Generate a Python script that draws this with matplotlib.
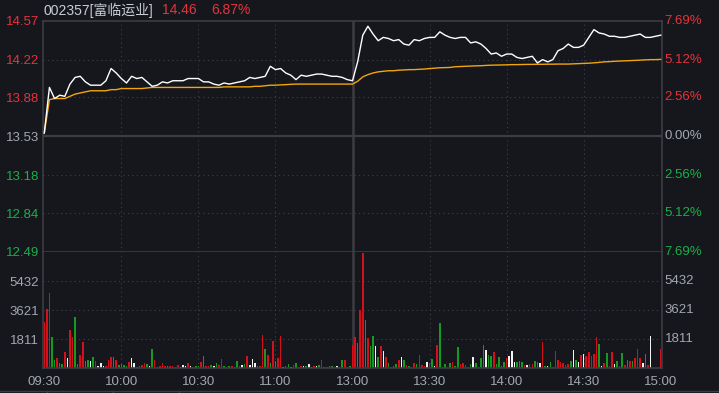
import numpy as np
import matplotlib

matplotlib.use("Agg")
import matplotlib.pyplot as plt
from matplotlib.lines import Line2D
from matplotlib.transforms import blended_transform_factory

plt.rcParams["font.family"] = ["Liberation Sans", "Noto Sans CJK SC", "DejaVu Sans"]

# ---- data ----
code_name = "002357[富临运业]"
last_price = "14.46"
last_pct = "6.87%"
pre_close = 13.53

# price / average price sampled every 2 minutes (0 = 09:30, 120 = 13:00, 240 = 15:00)
price_minutes = np.arange(0, 241, 2)
price = [
    13.56, 13.97, 13.87, 13.90, 13.89, 14.00, 14.06, 14.07, 14.02, 13.99,
    13.99, 13.99, 14.03, 14.14, 14.10, 14.05, 14.01, 14.07, 14.05, 14.06,
    14.02, 13.98, 13.99, 14.02, 14.01, 14.03, 14.03, 14.03, 14.05, 14.05,
    14.05, 14.02, 14.02, 14.00, 13.99, 14.01, 14.00, 14.01, 14.02, 14.03,
    14.06, 14.05, 14.06, 14.07, 14.16, 14.13, 14.14, 14.10, 14.08, 14.04,
    14.08, 14.07, 14.08, 14.09, 14.09, 14.08, 14.07, 14.07, 14.06, 14.04,
    14.03, 14.20, 14.44, 14.52, 14.45, 14.39, 14.42, 14.41, 14.39, 14.40,
    14.36, 14.35, 14.40, 14.39, 14.41, 14.42, 14.42, 14.47, 14.44, 14.42,
    14.41, 14.42, 14.42, 14.37, 14.38, 14.36, 14.32, 14.27, 14.28, 14.25,
    14.27, 14.27, 14.24, 14.23, 14.24, 14.25, 14.19, 14.22, 14.20, 14.22,
    14.30, 14.32, 14.36, 14.33, 14.33, 14.35, 14.42, 14.49, 14.46, 14.45,
    14.43, 14.43, 14.42, 14.42, 14.43, 14.44, 14.45, 14.42, 14.42, 14.43,
    14.44,
]
avg_price = [
    13.56, 13.86, 13.87, 13.87, 13.87, 13.89, 13.91, 13.92, 13.93, 13.94,
    13.94, 13.94, 13.94, 13.95, 13.95, 13.96, 13.96, 13.96, 13.96, 13.96,
    13.965, 13.97, 13.97, 13.97, 13.97, 13.97, 13.97, 13.97, 13.97, 13.97,
    13.97, 13.97, 13.97, 13.97, 13.97, 13.975, 13.975, 13.975, 13.975, 13.975,
    13.975, 13.98, 13.98, 13.985, 13.99, 13.99, 13.993, 13.995, 13.998, 14.0,
    14.0, 14.0, 14.0, 14.0, 14.0, 14.0, 14.0, 14.0, 14.0, 14.0,
    14.0, 14.025, 14.065, 14.085, 14.10, 14.11, 14.115, 14.12, 14.12, 14.125,
    14.127, 14.13, 14.13, 14.133, 14.135, 14.14, 14.143, 14.147, 14.148, 14.15,
    14.156, 14.158, 14.16, 14.162, 14.164, 14.165, 14.168, 14.17, 14.171, 14.172,
    14.173, 14.175, 14.175, 14.176, 14.177, 14.177, 14.178, 14.178, 14.179, 14.179,
    14.18, 14.18, 14.18, 14.182, 14.184, 14.186, 14.188, 14.191, 14.195, 14.20,
    14.202, 14.205, 14.207, 14.209, 14.211, 14.213, 14.215, 14.218, 14.22, 14.22,
    14.222,
]

# per-minute volume and direction (1 up / red, -1 down / green, 0 flat / white)
volume = [
    2890, 3680, 4660, 1955, 500, 600, 330, 250, 1020, 645, 2370, 1955, 3200, 250, 810, 1640, 440, 500, 440, 700,
    440, 125, 290, 125, 125, 500, 700, 700, 500, 190, 250, 190, 125, 350, 645, 290, 80, 125, 190, 290,
    250, 125, 1190, 500, 80, 125, 290, 125, 125, 125, 125, 80, 190, 80, 190, 145, 290, 125, 80, 125,
    125, 350, 770, 125, 125, 190, 125, 290, 190, 560, 125, 80, 125, 125, 80, 440, 125, 190, 250, 750,
    190, 560, 290, 125, 125, 2060, 1185, 810, 290, 1685, 440, 600, 2000, 60, 125, 250, 80, 190, 310, 80,
    125, 125, 125, 250, 80, 125, 125, 190, 500, 80, 80, 125, 125, 80, 125, 80, 500, 500, 80, 125,
    1435, 1910, 1580, 3620, 7200, 3000, 1890, 1370, 2000, 1370, 710, 1370, 1060, 690, 290, 80, 145, 250, 500, 690,
    500, 190, 125, 80, 290, 250, 810, 190, 125, 375, 310, 560, 125, 1435, 2810, 80, 250, 80, 330, 400,
    125, 1310, 250, 310, 190, 80, 230, 690, 310, 80, 625, 1435, 1120, 810, 750, 980, 250, 690, 125, 375,
    600, 750, 1060, 375, 375, 440, 375, 190, 190, 250, 250, 440, 375, 310, 1620, 125, 125, 375, 60, 1060,
    500, 375, 310, 190, 250, 440, 1120, 500, 375, 810, 875, 750, 1000, 750, 875, 1935, 1500, 125, 310, 935,
    125, 1000, 250, 440, 125, 935, 190, 500, 440, 440, 625, 1185, 625, 310, 875, 190, 2000, 0, 0, 0, 1190,
]
direction = [
    1, 1, 1, -1, -1, 1, -1, -1, 1, 0, 1, 1, -1, -1, 1, 1, -1, -1, 0, -1,
    1, 0, 0, 0, 1, 1, 1, -1, 1, -1, -1, -1, -1, 1, 0, 0, -1, -1, 1, 1,
    -1, 0, -1, 1, 1, 1, 1, 1, -1, 1, 1, 1, 1, 0, 0, 0, 1, 0, 1, -1,
    -1, 1, -1, 1, 1, -1, 0, -1, 1, 1, -1, -1, -1, 1, 1, -1, 1, 0, -1, 1,
    0, 0, 0, -1, 1, 1, -1, 1, -1, 1, -1, 1, 1, 0, -1, -1, 0, 1, -1, -1,
    1, 0, -1, 0, 0, 1, 0, -1, 1, -1, 1, -1, -1, 1, 0, -1, -1, 1, 1, -1,
    1, 1, -1, 1, 1, -1, 1, -1, -1, 0, -1, 1, 0, 1, -1, 1, -1, -1, 1, 0,
    -1, 1, -1, -1, 1, -1, 1, 1, 1, 0, 1, -1, 0, 1, -1, -1, -1, 1, -1, 1,
    -1, -1, 1, 1, 1, 1, -1, 0, -1, 1, -1, -1, 0, -1, -1, 1, -1, -1, -1, -1,
    1, 0, 0, 0, -1, -1, -1, 1, 0, 1, 1, -1, -1, 0, 1, -1, 0, -1, 1, 1,
    1, 1, 1, 1, 1, -1, 0, -1, 0, 1, 0, 1, 1, 1, 1, 1, -1, 0, 1, -1,
    1, 1, 0, -1, 1, -1, 1, -1, 1, -1, 1, 1, 1, 0, -1, 1, 0, 0, 0, 0, 1,
]

price_ticks = [14.57, 14.22, 13.88, 13.53, 13.18, 12.84, 12.49]
pct_labels = ["7.69%", "5.12%", "2.56%", "0.00%", "2.56%", "5.12%", "7.69%"]
vol_ticks = [1811, 3621, 5432]
time_ticks = [0, 30, 60, 90, 120, 150, 180, 210, 240]
time_labels = ["09:30", "10:00", "10:30", "11:00", "13:00", "13:30", "14:00", "14:30", "15:00"]

# ---- style ----
bg = "#15171c"
frame = "#3c3d42"
grid_c = "#3d4047"
red = "#e5333c"
green = "#1cae4a"
gray = "#a3a7af"
bar_colors = {1: "#d4111a", -1: "#129b1e", 0: "#f2f2f2"}
dotted = (0, (1, 3))
fs = 9.5

fig = plt.figure(figsize=(7.19, 3.93), dpi=100, facecolor=bg)
ax = fig.add_axes([43 / 719, 141 / 393, 619 / 719, 231.3 / 393])
axv = fig.add_axes([43 / 719, 25 / 393, 619 / 719, 116 / 393], sharex=ax)

for a in (ax, axv):
    a.set_facecolor(bg)
    for s in a.spines.values():
        s.set_color(frame)
        s.set_linewidth(1.2)
    a.tick_params(length=0, labelsize=fs, pad=3)
    for t in (30, 60, 90, 150, 180, 210):
        a.axvline(t, color=grid_c, lw=0.8, ls=dotted, zorder=0)
    a.axvline(120, color=frame, lw=1.8, zorder=0)

ax.set_xlim(-0.5, 240.5)
ax.set_ylim(price_ticks[-1], price_ticks[0])
for p in price_ticks[1:-1]:
    if p == pre_close:
        ax.axhline(p, color=frame, lw=1.6, zorder=0)
    else:
        ax.axhline(p, color=grid_c, lw=0.8, ls=dotted, zorder=0)

ax.plot(price_minutes, avg_price, color="#f2a50c", lw=1.0, zorder=3)
ax.plot(price_minutes, price, color="#ffffff", lw=1.0, zorder=4)

tick_colors = [red, red, red, gray, green, green, green]
ax.set_yticks(price_ticks)
ax.set_yticklabels([f"{p:.2f}" for p in price_ticks])
for lbl, c in zip(ax.get_yticklabels(), tick_colors):
    lbl.set_color(c)
trans = blended_transform_factory(ax.transAxes, ax.transData)
for p, s, c in zip(price_ticks, pct_labels, tick_colors):
    ax.text(1.004, p, s, transform=trans, color=c, fontsize=fs, va="center", ha="left")
ax.tick_params(labelbottom=False)

# volume panel
axv.set_ylim(0, 7244)
for v in vol_ticks:
    axv.axhline(v, color=grid_c, lw=0.8, ls=dotted, zorder=0)
minutes = np.arange(len(volume))
axv.bar(minutes, volume, width=0.6, color=[bar_colors[d] for d in direction],
        linewidth=0, zorder=2)
axv.set_yticks(vol_ticks)
axv.set_yticklabels([str(v) for v in vol_ticks], color=gray)
transv = blended_transform_factory(axv.transAxes, axv.transData)
for v in vol_ticks:
    axv.text(1.004, v, str(v), transform=transv, color=gray, fontsize=fs, va="center", ha="left")
axv.spines["top"].set_visible(False)
axv.set_xticks(time_ticks)
axv.set_xticklabels(time_labels, color=gray)
axv.tick_params(axis="x", pad=6)

# header
fig.text(44 / 719, 1 - 10 / 393, code_name, color="#c9cdd6", fontsize=10, va="center")
fig.text(162 / 719, 1 - 10 / 393, last_price, color=red, fontsize=10, va="center")
fig.text(211 / 719, 1 - 10 / 393, last_pct, color=red, fontsize=10, va="center")

# bottom strip
fig.add_artist(Line2D([0, 1], [2 / 393, 2 / 393], color=frame, lw=1))
for x in (47, 113, 179):
    fig.add_artist(Line2D([x / 719, x / 719], [0, 2 / 393], color=frame, lw=1))

fig.savefig("out.png", dpi=100, facecolor=bg)
